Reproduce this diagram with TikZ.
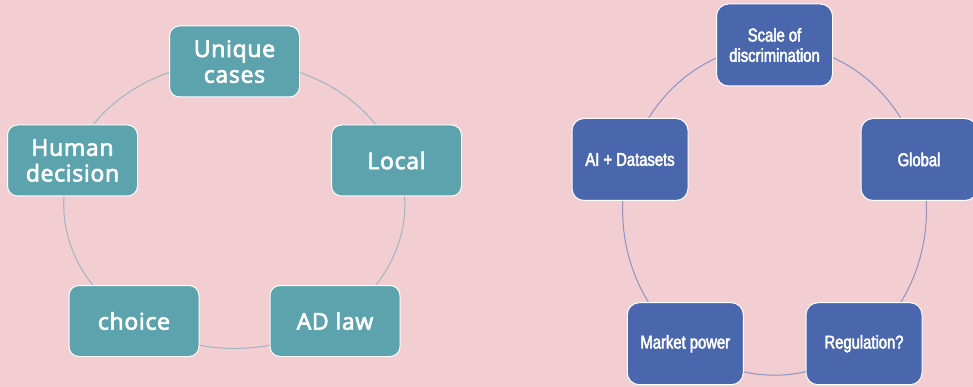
\documentclass[tikz,border=0pt]{standalone}
\usepackage{fontspec}
\newfontfamily\leftfont[FakeBold=3,LetterSpace=3]{Open Sans}
\newfontfamily\rightfont[FakeStretch=0.8,FakeBold=2.5]{Liberation Sans}
\definecolor{bgpink}{HTML}{F2CDD2}
\definecolor{tealfill}{HTML}{5CA3AE}
\definecolor{bluefill}{HTML}{4A67AE}
\definecolor{tealline}{HTML}{A2B5BF}
\definecolor{blueline}{HTML}{8E93C0}
\pgfdeclarelayer{bg}
\pgfdeclarelayer{mid}
\pgfsetlayers{bg,mid,main}
\tikzset{
  lbox/.style={rectangle, rounded corners=10pt, draw=white, line width=1pt, fill=tealfill,
    minimum width=130pt, minimum height=71pt, text=white, align=center, inner sep=0pt,
    font=\leftfont\fontsize{23}{25.7}\selectfont},
  rbox/.style={rectangle, rounded corners=12pt, draw=white, line width=1pt, fill=bluefill,
    minimum width=116pt, minimum height=82pt, text=white, align=center, inner sep=0pt,
    font=\rightfont\fontsize{18.5}{20.3}\selectfont},
  larc/.style={draw=tealline, line width=1pt},
  rarc/.style={draw=blueline, line width=1pt}
}
\begin{document}
\begin{tikzpicture}[x=1pt,y=-1pt]
\begin{pgfonlayer}{bg}
\fill[bgpink] (0,0) rectangle (973,387);
\end{pgfonlayer}
\useasboundingbox (0,0) rectangle (973,387);
% left cycle
\node[lbox] (u) at (234.5,61.5) {Unique\\cases};
\node[lbox] (l) at (396.5,160.5) {Local};
\node[lbox] (ad) at (335,321) {AD law};
\node[lbox] (c) at (134,321) {choice};
\node[lbox] (h) at (72.5,160.5) {Human\\decision};
% right cycle
\node[rbox] (s) at (774.5,45) {Scale of\\discrimination};
\node[rbox] (g) at (919,159.5) {Global};
\node[rbox] (r) at (864,343.7) {Regulation?};
\node[rbox] (m) at (685.3,343.7) {Market power};
\node[rbox] (a) at (630,159.5) {AI + Datasets};
\begin{pgfonlayer}{mid}
\draw[larc] (u.center) arc[start angle=-90, end angle=-18, x radius=170.5, y radius=143.5];
\draw[larc] (l.center) arc[start angle=-18, end angle=54, x radius=170.5, y radius=143.5];
\draw[larc] (ad.center) arc[start angle=54, end angle=126, x radius=170.5, y radius=143.5];
\draw[larc] (c.center) arc[start angle=126, end angle=198, x radius=170.5, y radius=143.5];
\draw[larc] (h.center) arc[start angle=198, end angle=270, x radius=170.5, y radius=143.5];
\draw[rarc] (s.center) arc[start angle=-90, end angle=-18, x radius=152, y radius=165];
\draw[rarc] (g.center) arc[start angle=-18, end angle=54, x radius=152, y radius=165];
\draw[rarc] (r.center) arc[start angle=54, end angle=126, x radius=152, y radius=165];
\draw[rarc] (m.center) arc[start angle=126, end angle=198, x radius=152, y radius=165];
\draw[rarc] (a.center) arc[start angle=198, end angle=270, x radius=152, y radius=165];
\end{pgfonlayer}
\end{tikzpicture}
\end{document}
